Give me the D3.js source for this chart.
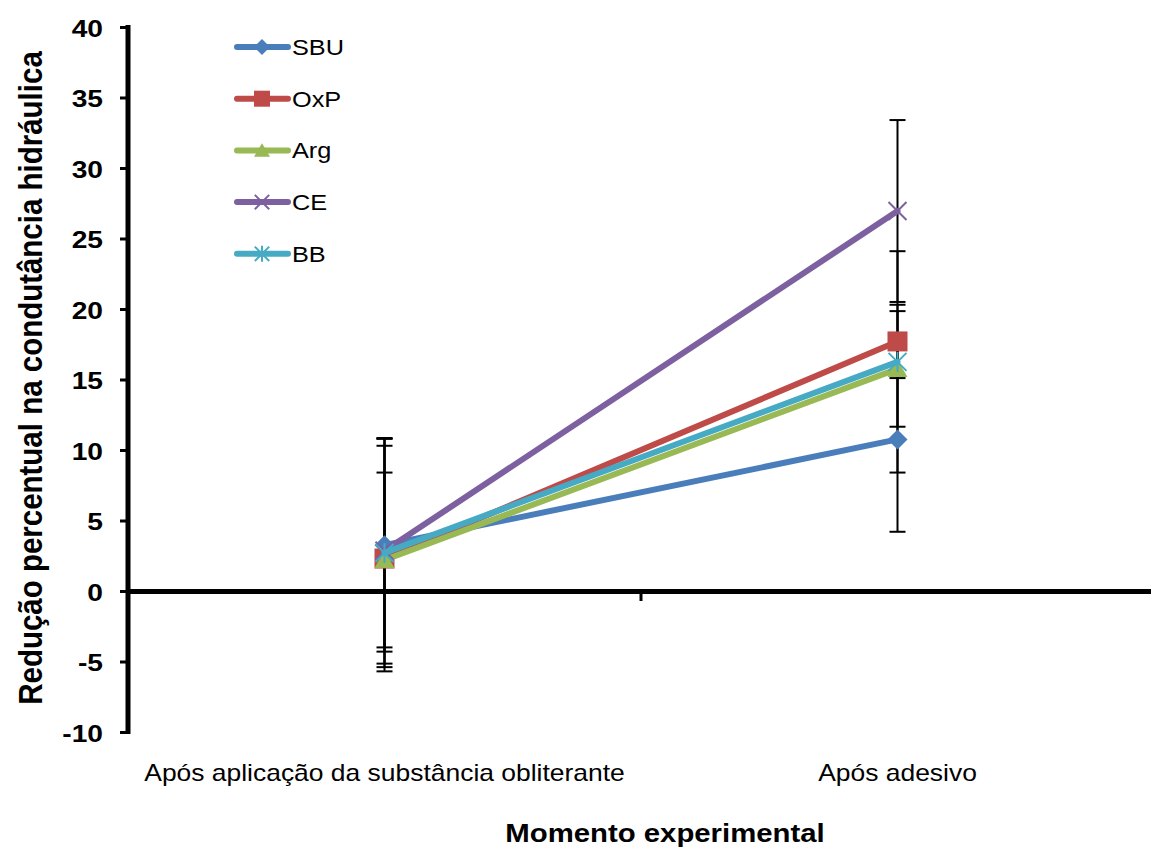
<!DOCTYPE html>
<html>
<head>
<meta charset="utf-8">
<script src="https://cdn.jsdelivr.net/npm/d3@7"></script>
<style>
  body { margin: 0; background: #fff; }
  text { font-family: Arial, "Liberation Sans", sans-serif; fill: #000; }
</style>
</head>
<body>
<svg id="chart" width="1151" height="849"></svg>
<script>
// data
const moments = ['Após aplicação da substância obliterante', 'Após adesivo'];
const seriesNames = ['SBU', 'OxP', 'Arg', 'CE', 'BB'];
const colors = ['#4a7ebb', '#be4b48', '#98b954', '#7d60a0', '#46aac5'];
const meanSBU = [3.25, 10.75];
const meanOxP = [2.3, 17.7];
const meanArg = [2.2, 15.75];
const meanCE = [2.85, 26.95];
const meanBB = [2.7, 16.25];
const errSBU = [7.55, 6.55];
const errOxP = [8.0, 2.6];
const errArg = [6.2, 4.1];
const errCE = [8.0, 6.45];
const errBB = [8.1, 7.85];
const yTicks = [-10, -5, 0, 5, 10, 15, 20, 25, 30, 35, 40];

const means = [meanSBU, meanOxP, meanArg, meanCE, meanBB];
const errs = [errSBU, errOxP, errArg, errCE, errBB];

const SX = 1.15; // the text in the picture is a bit wide

const svg = d3.select('#chart');

const x = d3.scaleBand().domain(moments).range([128, 1154]);
const y = d3.scaleLinear().domain([-10, 40]).range([732, 27]);
const cx = m => x(m) + x.bandwidth() / 2;

// helper: horizontally stretched text
function wideText(g, tx, ty, str, size, bold, anchor) {
  return g.append('text')
    .attr('transform', `translate(${tx},${ty}) scale(${SX},1)`)
    .attr('text-anchor', anchor || 'middle')
    .attr('fill', '#000')
    .style('font-size', size + 'px')
    .style('font-weight', bold ? 'bold' : 'normal')
    .text(str);
}

// y axis
const yAxis = svg.append('g')
  .attr('transform', 'translate(128,0)')
  .call(d3.axisLeft(y).tickValues(yTicks).tickSize(8).tickSizeOuter(0));
yAxis.select('.domain').attr('stroke-width', 5).attr('d', 'M0,' + (y(-10) + 2) + 'V' + (y(40) - 2));
yAxis.selectAll('.tick line').attr('stroke-width', 3);
yAxis.selectAll('.tick text').remove();
yAxis.selectAll('.tick').each(function(d) {
  wideText(d3.select(this), -25, 9, d, 24.5, true, 'end');
});

// x axis at zero
const xAxis = svg.append('g')
  .attr('transform', 'translate(0,' + y(0) + ')')
  .call(d3.axisBottom(x).tickSize(0));
xAxis.select('.domain').attr('stroke-width', 5);
xAxis.selectAll('.tick text').remove();
xAxis.append('line')
  .attr('x1', x(moments[1])).attr('x2', x(moments[1]))
  .attr('y1', 0).attr('y2', 10)
  .attr('stroke', '#000').attr('stroke-width', 3);

// category labels
moments.forEach(m => wideText(svg, cx(m), 781, m, 23, false));

// axis titles
wideText(svg, 665, 842, 'Momento experimental', 25.5, true);

svg.append('text')
  .attr('transform', `translate(42,378) scale(${SX},1) rotate(-90)`)
  .attr('text-anchor', 'middle')
  .style('font-size', '29.5px').style('font-weight', 'bold')
  .text('Redução percentual na condutância hidráulica');

// error bars
const eb = svg.append('g');
means.forEach((m, i) => {
  moments.forEach((mo, j) => {
    const px = cx(mo);
    const hi = y(m[j] + errs[i][j]), lo = y(m[j] - errs[i][j]);
    eb.append('line').attr('x1', px).attr('x2', px).attr('y1', hi).attr('y2', lo)
      .attr('stroke', '#000').attr('stroke-width', 2);
    [hi, lo].forEach(v => {
      eb.append('line').attr('x1', px - 8).attr('x2', px + 8).attr('y1', v).attr('y2', v)
        .attr('stroke', '#000').attr('stroke-width', 2);
    });
  });
});

// markers
function drawMarker(g, i, px, py, s) {
  const c = colors[i];
  if (i === 0) {
    g.append('path').attr('d', `M${px},${py - 10*s}L${px + 10*s},${py}L${px},${py + 10*s}L${px - 10*s},${py}Z`).attr('fill', c);
  } else if (i === 1) {
    g.append('rect').attr('x', px - 10*s).attr('y', py - 10*s).attr('width', 20*s).attr('height', 20*s).attr('fill', c);
  } else if (i === 2) {
    g.append('path').attr('d', `M${px},${py - 9*s}L${px + 10*s},${py + 8*s}L${px - 10*s},${py + 8*s}Z`).attr('fill', c);
  } else if (i === 3) {
    g.append('path').attr('d', `M${px - 9*s},${py - 9*s}L${px + 9*s},${py + 9*s}M${px + 9*s},${py - 9*s}L${px - 9*s},${py + 9*s}`)
      .attr('stroke', c).attr('stroke-width', 2);
  } else {
    g.append('path').attr('d', `M${px - 9*s},${py - 9*s}L${px + 9*s},${py + 9*s}M${px + 9*s},${py - 9*s}L${px - 9*s},${py + 9*s}M${px},${py - 10*s}L${px},${py + 10*s}`)
      .attr('stroke', c).attr('stroke-width', 2);
  }
}

// lines
const line = d3.line().x((d, j) => cx(moments[j])).y(d => y(d));
means.forEach((m, i) => {
  const g = svg.append('g');
  g.append('path').datum(m).attr('d', line)
    .attr('fill', 'none').attr('stroke', colors[i]).attr('stroke-width', 6)
    .attr('stroke-linecap', 'round');
  m.forEach((v, j) => drawMarker(g, i, cx(moments[j]), y(v), 1));
});

// legend
const lg = svg.append('g');
seriesNames.forEach((n, i) => {
  const ly = 47 + i * 51.7;
  lg.append('line').attr('x1', 237).attr('x2', 288).attr('y1', ly).attr('y2', ly)
    .attr('stroke', colors[i]).attr('stroke-width', 6).attr('stroke-linecap', 'round');
  drawMarker(lg, i, 262, ly, 0.8);
  wideText(lg, 292, ly + 8, n, 22, false, 'start');
});
</script>
</body>
</html>
